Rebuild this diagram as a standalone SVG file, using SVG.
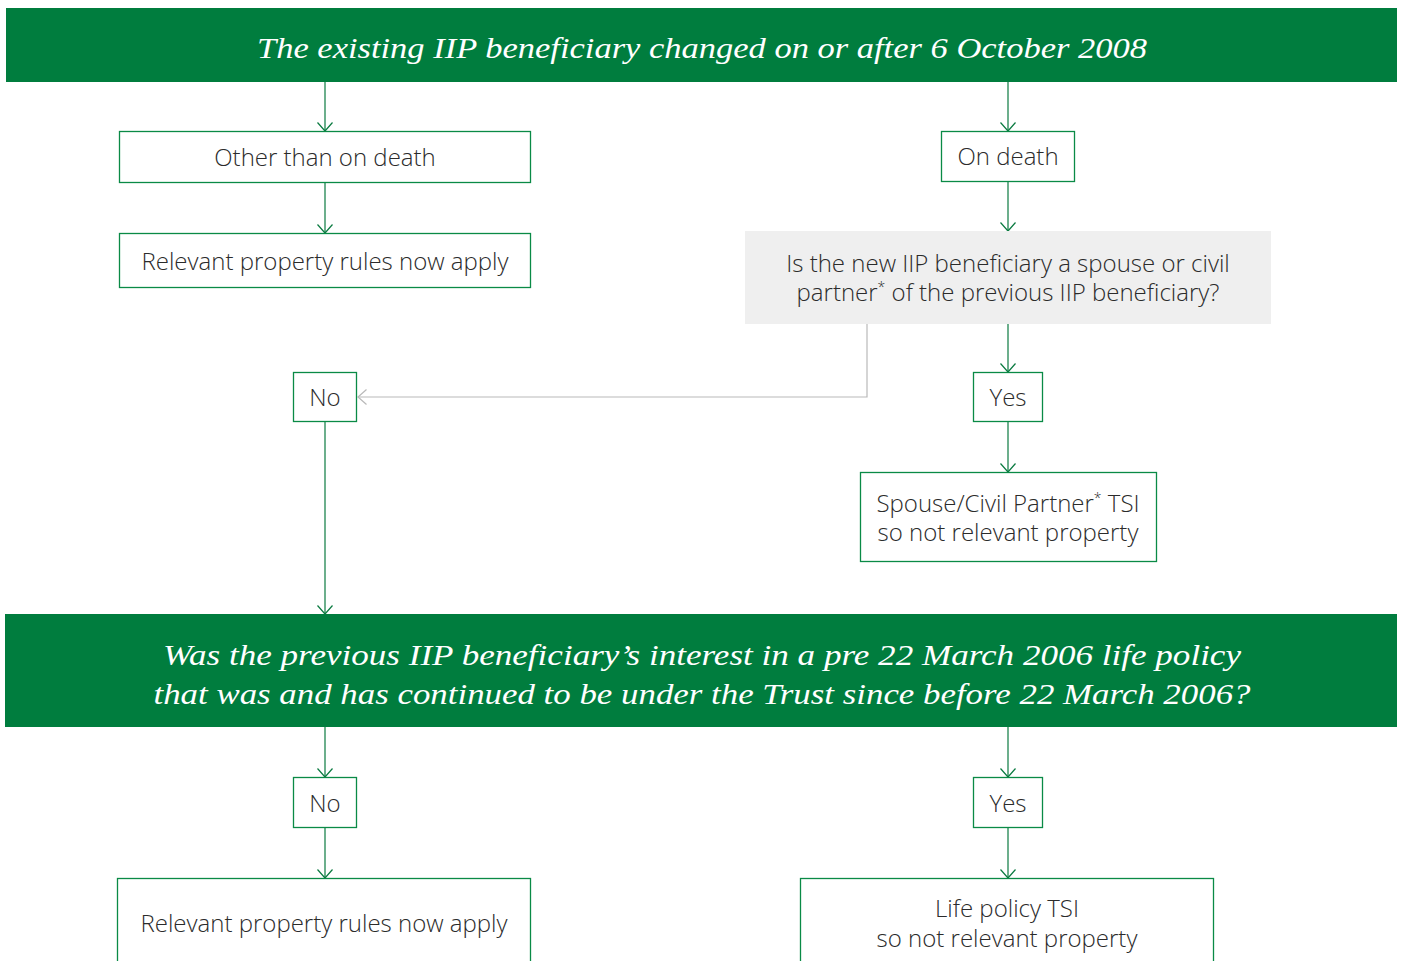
<svg xmlns="http://www.w3.org/2000/svg" width="1401" height="961" viewBox="0 0 1401 961">
<style>
.banner{fill:#007d3e}
.bt{font-family:"Liberation Serif","DejaVu Serif",serif;font-style:italic;font-size:30px;fill:#ffffff;text-anchor:middle}
.box{fill:#ffffff;stroke:#0a8a46;stroke-width:1.3}
.grey{fill:#efefef}
.t{font-family:"Open Sans","Liberation Sans",sans-serif;font-weight:300;font-size:24px;fill:#2b2b2b;text-anchor:middle}
.sup{font-size:14px}
.c{fill:none;stroke:#0a7a40;stroke-width:1.2}
.cg{fill:none;stroke:#b9b9b9;stroke-width:1.2}
</style>
<defs>
<marker id="ag" markerUnits="userSpaceOnUse" markerWidth="20" markerHeight="20" refX="10" refY="10" orient="auto" viewBox="0 0 20 20">
<path d="M1.5,2.5 L10,10 L1.5,17.5" fill="none" stroke="#0a7a40" stroke-width="1.2"/>
</marker>
<marker id="agr" markerUnits="userSpaceOnUse" markerWidth="20" markerHeight="20" refX="10" refY="10" orient="auto" viewBox="0 0 20 20">
<path d="M1.5,2.5 L10,10 L1.5,17.5" fill="none" stroke="#b9b9b9" stroke-width="1.2"/>
</marker>
</defs>
<rect width="1401" height="961" fill="#ffffff"/>
<g id="connectors">
<path class="c" d="M325,82 V131" marker-end="url(#ag)"/>
<path class="c" d="M1008,82 V131" marker-end="url(#ag)"/>
<path class="c" d="M325,182 V233" marker-end="url(#ag)"/>
<path class="c" d="M1008,181 V231" marker-end="url(#ag)"/>
<path class="cg" d="M867,324 V397 H358" marker-end="url(#agr)"/>
<path class="c" d="M1008,324 V372" marker-end="url(#ag)"/>
<path class="c" d="M325,422 V614" marker-end="url(#ag)"/>
<path class="c" d="M1008,422 V472" marker-end="url(#ag)"/>
<path class="c" d="M325,727 V777" marker-end="url(#ag)"/>
<path class="c" d="M1008,727 V777" marker-end="url(#ag)"/>
<path class="c" d="M325,828 V878" marker-end="url(#ag)"/>
<path class="c" d="M1008,828 V878" marker-end="url(#ag)"/>
</g>
<g id="banner1">
<rect class="banner" x="6" y="8" width="1391" height="74"/>
<text class="bt" x="702" y="58" textLength="890" lengthAdjust="spacingAndGlyphs">The existing IIP beneficiary changed on or after 6 October 2008</text>
</g>
<g id="other">
<rect class="box" x="119.5" y="131.5" width="411" height="51"/>
<text class="t" x="325" y="166">Other than on death</text>
</g>
<g id="rel1">
<rect class="box" x="119.5" y="233.5" width="411" height="54"/>
<text class="t" x="325" y="270">Relevant property rules now apply</text>
</g>
<g id="ondeath">
<rect class="box" x="941.5" y="131.5" width="133" height="50"/>
<text class="t" x="1008" y="165">On death</text>
</g>
<g id="question">
<rect class="grey" x="745" y="231" width="526" height="93"/>
<text class="t" x="1008" y="272">Is the new IIP beneficiary a spouse or civil</text>
<text class="t" x="1008" y="301">partner<tspan class="sup" dy="-9">*</tspan><tspan dy="9"> of the previous IIP beneficiary?</tspan></text>
</g>
<g id="no1">
<rect class="box" x="293.5" y="372.5" width="63" height="49"/>
<text class="t" x="325" y="406">No</text>
</g>
<g id="yes1">
<rect class="box" x="973.5" y="372.5" width="69" height="49"/>
<text class="t" x="1008" y="406">Yes</text>
</g>
<g id="spouse">
<rect class="box" x="860.5" y="472.5" width="296" height="89"/>
<text class="t" x="1008" y="512">Spouse/Civil Partner<tspan class="sup" dy="-9">*</tspan><tspan dy="9"> TSI</tspan></text>
<text class="t" x="1008" y="541">so not relevant property</text>
</g>
<g id="banner2">
<rect class="banner" x="5" y="614" width="1392" height="113"/>
<text class="bt" x="702" y="665" textLength="1078" lengthAdjust="spacingAndGlyphs">Was the previous IIP beneficiary’s interest in a pre 22 March 2006 life policy</text>
<text class="bt" x="702" y="704" textLength="1097" lengthAdjust="spacingAndGlyphs">that was and has continued to be under the Trust since before 22 March 2006?</text>
</g>
<g id="no2">
<rect class="box" x="293.5" y="777.5" width="63" height="50"/>
<text class="t" x="325" y="812">No</text>
</g>
<g id="yes2">
<rect class="box" x="973.5" y="777.5" width="69" height="50"/>
<text class="t" x="1008" y="812">Yes</text>
</g>
<g id="rel2">
<rect class="box" x="117.5" y="878.5" width="413" height="100"/>
<text class="t" x="324" y="932">Relevant property rules now apply</text>
</g>
<g id="lifepolicy">
<rect class="box" x="800.5" y="878.5" width="413" height="100"/>
<text class="t" x="1007" y="917">Life policy TSI</text>
<text class="t" x="1007" y="947">so not relevant property</text>
</g>
</svg>
